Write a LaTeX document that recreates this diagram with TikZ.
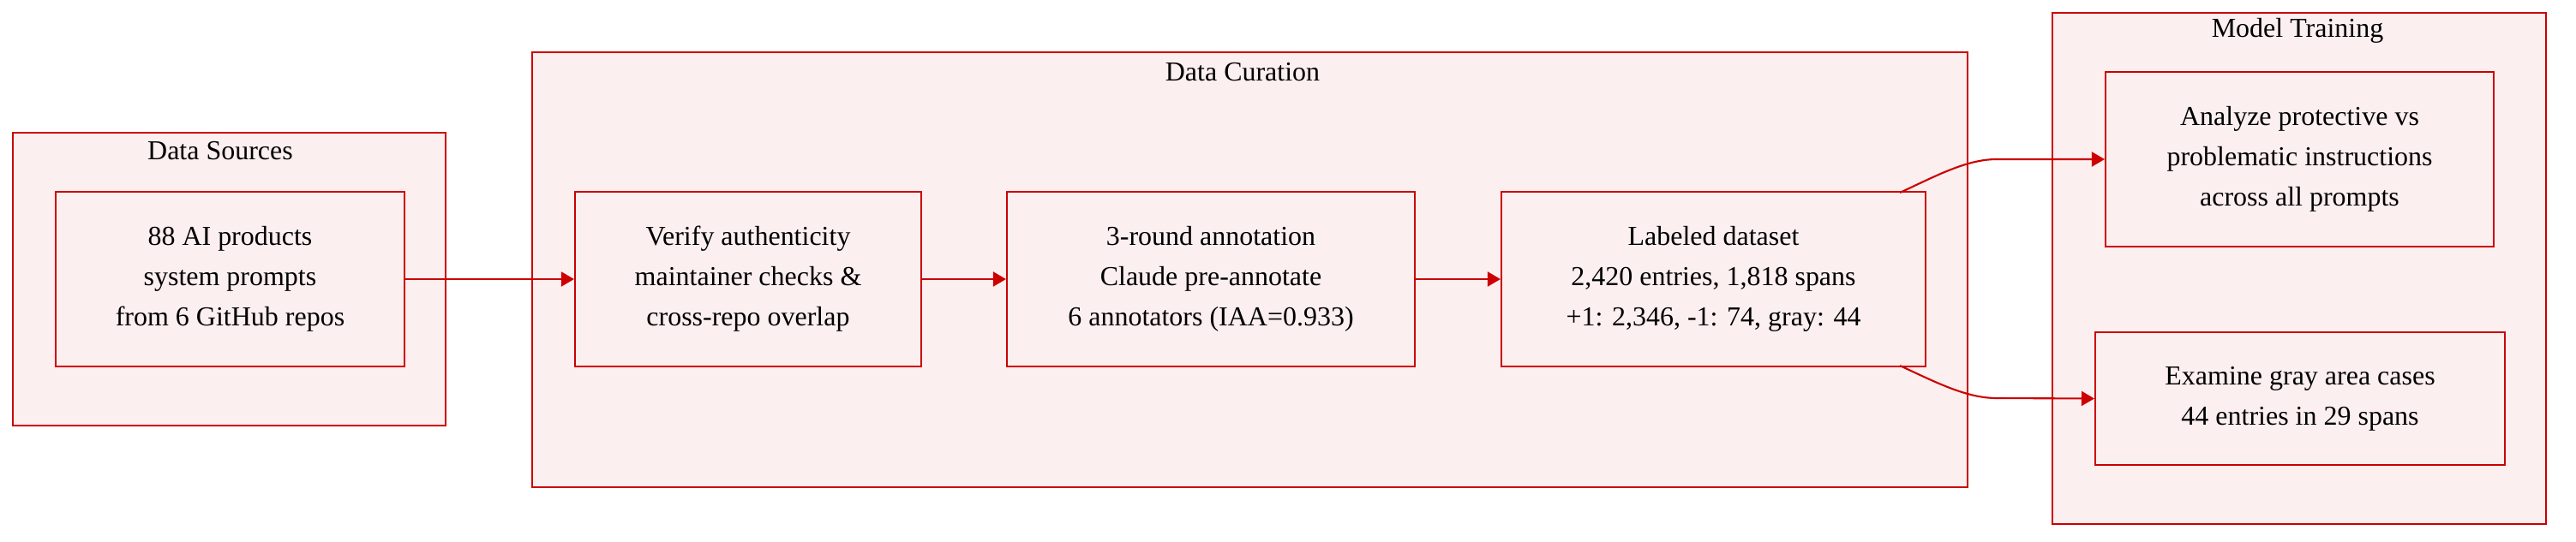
\documentclass[tikz,border=0pt]{standalone}
\usepackage{fontspec}
\setmainfont{Liberation Serif}
\usepackage{tikz}
\usetikzlibrary{arrows.meta}

\definecolor{boxred}{RGB}{204,0,0}
\definecolor{boxfill}{RGB}{252,239,239}

\begin{document}
\begin{tikzpicture}[
	cluster/.style={draw=boxred, line width=0.6pt, fill=boxfill},
	stepbox/.style={draw=boxred, line width=0.6pt, fill=boxfill, align=center, inner sep=0pt},
	flow/.style={draw=boxred, line width=0.6pt, -{Triangle[length=0.15cm, width=0.17cm]}},
	font=\fontsize{9.1}{13.4}\selectfont
]
	\useasboundingbox (0, 0) rectangle (30.06, -6.32);

	\draw [cluster] (0.15, -1.55) rectangle (5.20, -4.97);
	\draw [cluster] (6.21, -0.61) rectangle (22.96, -5.69);
	\draw [cluster] (23.95, -0.15) rectangle (29.71, -6.12);

	\node (dstitle) at (2.57, -1.76) {Data Sources};
	\node (dctitle) at (14.50, -0.84) {Data Curation};
	\node (mttitle) at (26.81, -0.36) {Model Training};

	\node [stepbox, minimum width=4.07cm, minimum height=2.04cm] (src) at (2.685, -3.26) {88 AI products\\system prompts\\from 6 GitHub repos};
	\node [stepbox, minimum width=4.04cm, minimum height=2.04cm] (verify) at (8.73, -3.26) {Verify authenticity\\maintainer checks \&\\cross-repo overlap};
	\node [stepbox, minimum width=4.76cm, minimum height=2.04cm] (annot) at (14.13, -3.26) {3-round annotation\\Claude pre-annotate\\6 annotators (IAA=0.933)};
	\node [stepbox, minimum width=4.95cm, minimum height=2.04cm] (labeled) at (19.995, -3.26) {Labeled dataset\\2,420 entries, 1,818 spans\\+1: 2,346, -1: 74, gray: 44};

	\node [stepbox, minimum width=4.53cm, minimum height=2.04cm] (analyze) at (26.835, -1.86) {Analyze protective vs\\problematic instructions\\across all prompts};
	\node [stepbox, minimum width=4.78cm, minimum height=1.55cm] (examine) at (26.84, -4.655) {Examine gray area cases\\44 entries in 29 spans};

	\draw [flow] (src) -- (verify);
	\draw [flow] (verify) -- (annot);
	\draw [flow] (annot) -- (labeled);

	\coordinate (labtop) at (22.17, -2.25);
	\coordinate (labbot) at (22.17, -4.27);
	\draw [flow] (labtop) .. controls (22.60, -2.05) and (22.95, -1.86) .. (23.30, -1.86) -- (analyze.west);
	\draw [flow] (labbot) .. controls (22.60, -4.47) and (22.95, -4.65) .. (23.30, -4.65) -- (examine.west);
\end{tikzpicture}
\end{document}
